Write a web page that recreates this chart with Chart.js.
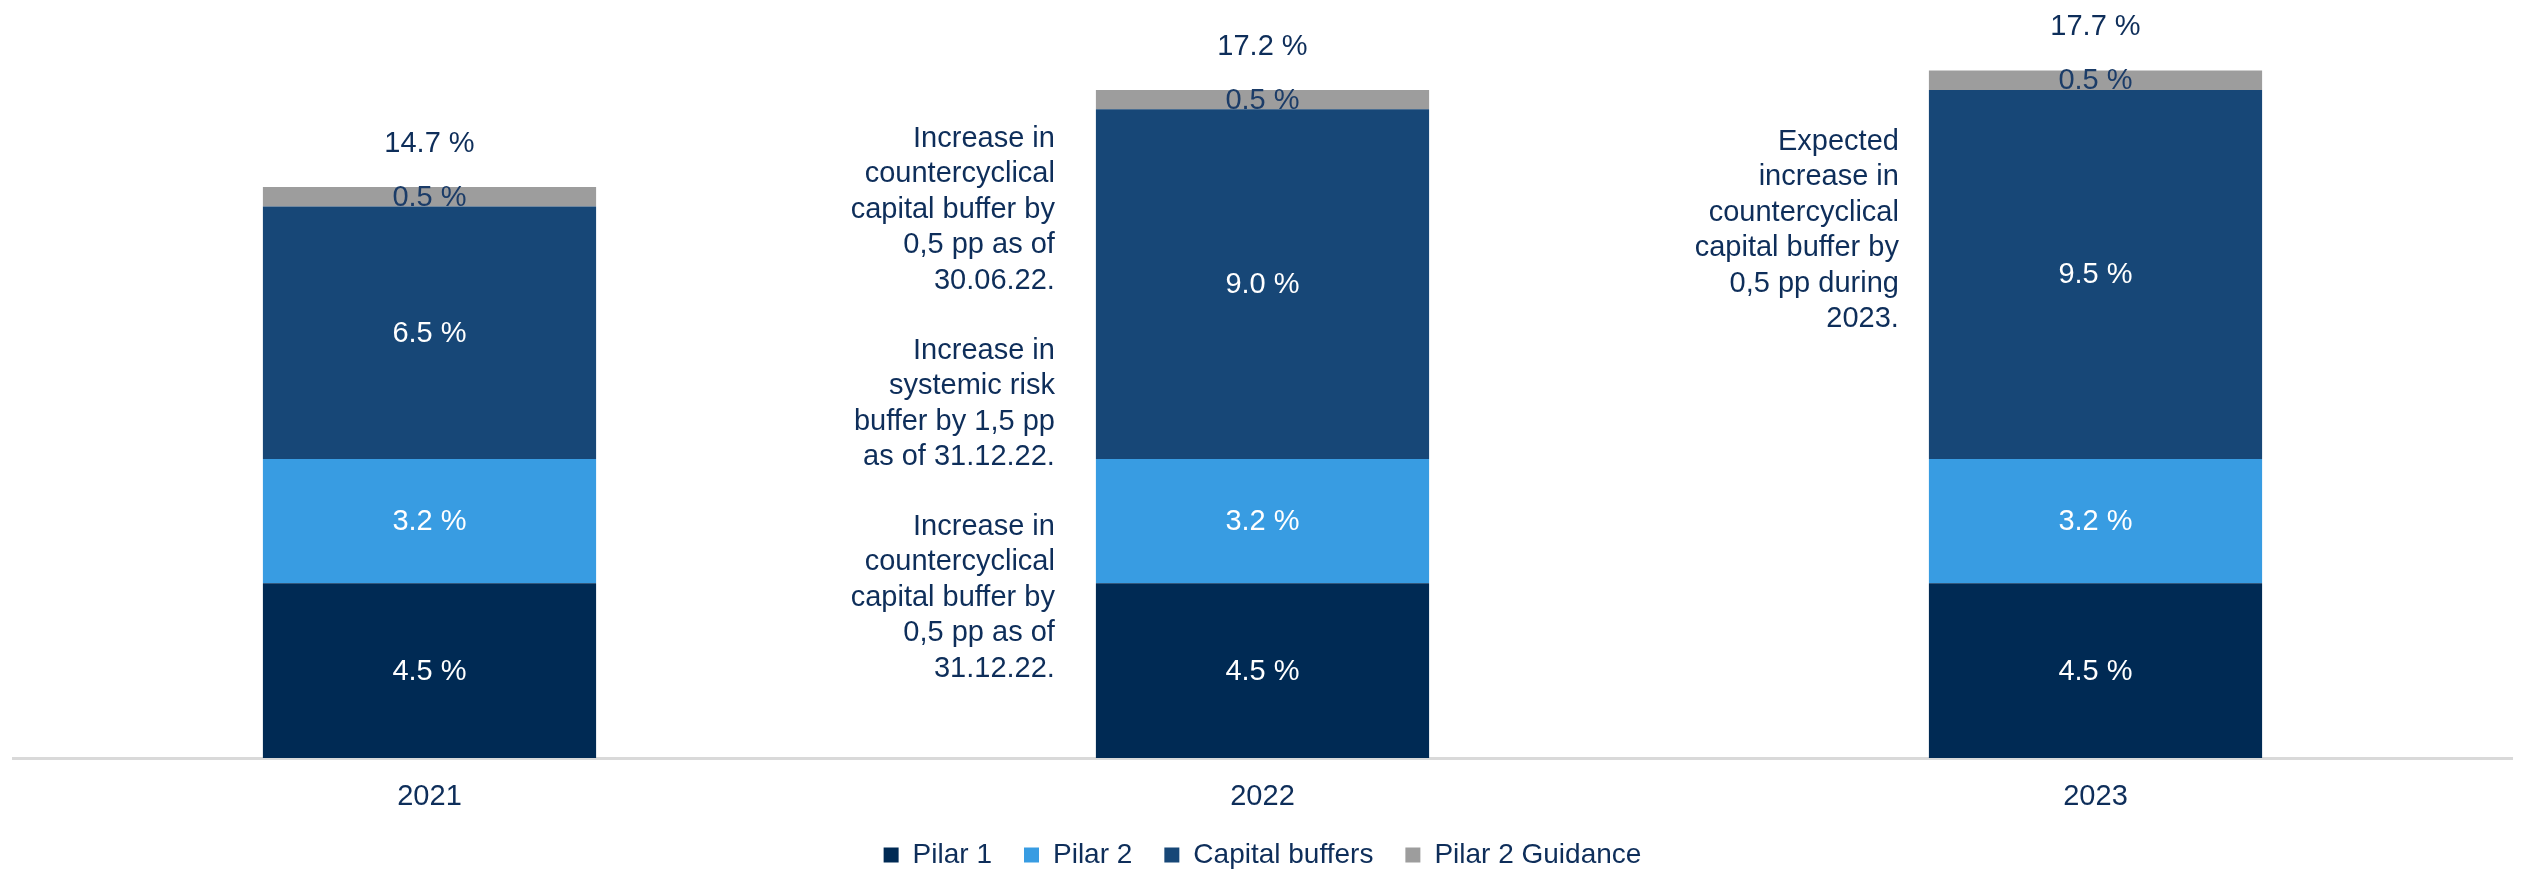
<!DOCTYPE html>
<html>
<head>
<meta charset="utf-8">
<script src="https://cdn.jsdelivr.net/npm/chart.js@4"></script>
<style>
    html, body { margin: 0; padding: 0; background: #ffffff; }
    #wrap { width: 2522px; height: 871px; position: relative; }
</style>
</head>
<body>
<div id="wrap"><canvas id="capital-chart"></canvas></div>
<script>
// chart data
const categories = ['2021', '2022', '2023'];
const pilar1 = [4.5, 4.5, 4.5];
const pilar2 = [3.2, 3.2, 3.2];
const capitalBuffers = [6.5, 9.0, 9.5];
const pilar2Guidance = [0.5, 0.5, 0.5];

// notes written to the left of the bars
const notes2022 = [
    ['Increase in', 'countercyclical', 'capital buffer by', '0,5 pp as of', '30.06.22.'],
    ['Increase in', 'systemic risk', 'buffer by 1,5 pp', 'as of 31.12.22.'],
    ['Increase in', 'countercyclical', 'capital buffer by', '0,5 pp as of', '31.12.22.']
];
const notes2023 = [
    ['Expected', 'increase in', 'countercyclical', 'capital buffer by', '0,5 pp during', '2023.']
];

const FONT = '"Liberation Sans", Arial, sans-serif';
const NAVY_TEXT = '#0E2E5A';

// value labels in the segments, totals above the stacks and the side notes
const labelPlugin = {
    id: 'labelPlugin',
    afterDatasetsDraw(chart) {
        const ctx = chart.ctx;
        ctx.save();
        ctx.font = '29px ' + FONT;
        ctx.textAlign = 'center';
        ctx.textBaseline = 'middle';

        chart.data.datasets.forEach((ds, i) => {
            const meta = chart.getDatasetMeta(i);
            meta.data.forEach((bar, j) => {
                const { x, y, base } = bar.getProps(['x', 'y', 'base'], true);
                ctx.fillStyle = ds.labelColor;
                ctx.fillText(ds.data[j].toFixed(1) + ' %', x, (y + base) / 2 + 1);
            });
        });

        // totals
        const lastMeta = chart.getDatasetMeta(chart.data.datasets.length - 1);
        lastMeta.data.forEach((bar, j) => {
            const total = chart.data.datasets.reduce((s, ds) => s + ds.data[j], 0);
            ctx.fillStyle = NAVY_TEXT;
            ctx.fillText(total.toFixed(1) + ' %', bar.x, bar.y - 43);
        });

        // side notes, right aligned next to the bar
        ctx.textAlign = 'right';
        const lineH = 35.4;
        const drawGroups = (idx, groups, tops, gap) => {
            const bar = chart.getDatasetMeta(0).data[idx];
            const right = bar.x - bar.width / 2 - gap;
            groups.forEach((lines, g) => {
                lines.forEach((line, k) => {
                    ctx.fillText(line, right, tops[g] + k * lineH);
                });
            });
        };
        drawGroups(1, notes2022, [139, 351, 527], 41);
        drawGroups(2, notes2023, [142], 30);

        ctx.restore();
    }
};

const ctx = document.getElementById('capital-chart').getContext('2d');
new Chart(ctx, {
    type: 'bar',
    data: {
        labels: categories,
        datasets: [
            { label: 'Pilar 1', data: pilar1, backgroundColor: '#002A54', labelColor: '#ffffff' },
            { label: 'Pilar 2', data: pilar2, backgroundColor: '#389CE2', labelColor: '#ffffff' },
            { label: 'Capital buffers', data: capitalBuffers, backgroundColor: '#174777', labelColor: '#ffffff' },
            { label: 'Pilar 2 Guidance', data: pilar2Guidance, backgroundColor: '#9D9D9D', labelColor: '#1B3C68' }
        ]
    },
    options: {
        responsive: true,
        maintainAspectRatio: false,
        animation: false,
        datasets: {
            bar: { categoryPercentage: 1.0, barPercentage: 0.4, borderWidth: 0 }
        },
        layout: { padding: { top: 20, left: 13, right: 10, bottom: -8 } },
        plugins: {
            legend: {
                display: true,
                position: 'bottom',
                labels: {
                    boxWidth: 15,
                    boxHeight: 15,
                    padding: 32,
                    color: NAVY_TEXT,
                    font: { family: FONT, size: 28 }
                }
            },
            tooltip: { enabled: false }
        },
        scales: {
            x: {
                stacked: true,
                grid: { display: false },
                border: { color: '#D9D9D9', width: 3 },
                ticks: { color: NAVY_TEXT, padding: 14, font: { family: FONT, size: 29 } },
                afterFit: (scale) => { scale.height = 51; }
            },
            y: {
                stacked: true,
                display: false,
                min: 0,
                max: 19
            }
        }
    },
    plugins: [labelPlugin]
});
</script>
</body>
</html>
